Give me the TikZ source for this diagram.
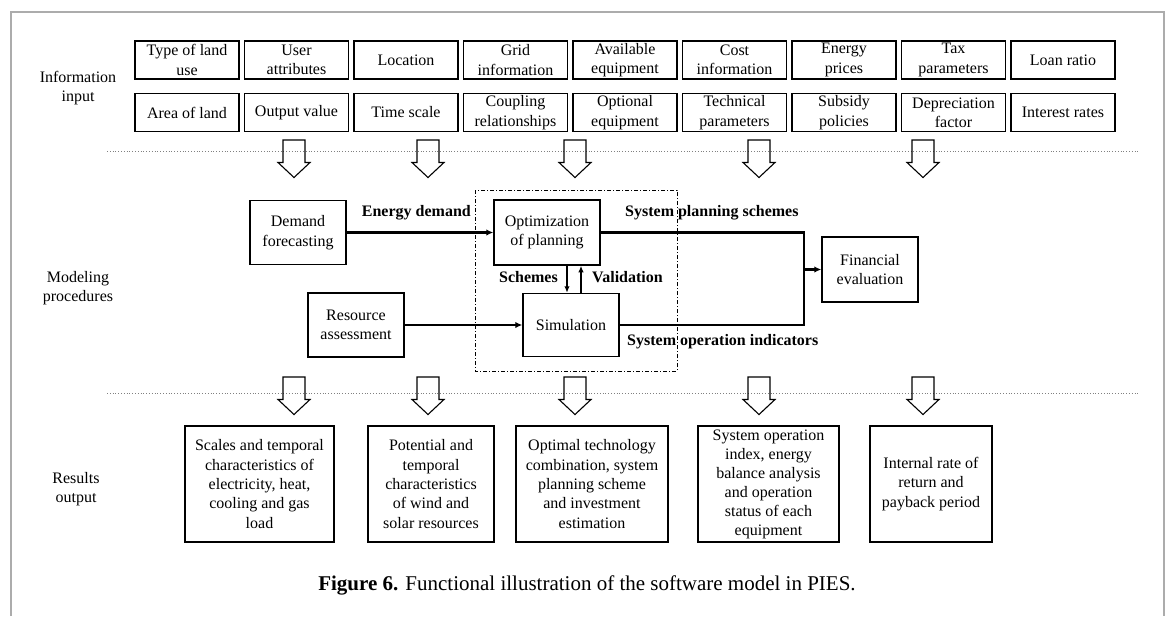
\documentclass[tikz,border=0pt]{standalone}
\usepackage{fontspec}
\setmainfont{Liberation Serif}
\usepackage{tikz}
\usetikzlibrary{positioning, arrows.meta}

\begin{document}
\begin{tikzpicture}[x = 1pt, y = -1pt,
  every node/.style = {font = \fontsize{16}{19.4}\selectfont, align = center},
  inbox/.style = {draw, line width = 1.6pt, minimum width = 104pt, minimum height = 38pt, inner sep = 0pt},
  procbox/.style = {draw, line width = 1.5pt, minimum width = 96pt, minimum height = 64pt, inner sep = 0pt},
  outbox/.style = {draw, line width = 1.5pt, minimum height = 116pt, inner sep = 0pt},
  flowline/.style = {line width = 2.4pt, -{Latex[length = 7pt, width = 6.5pt]}},
  thinflow/.style = {line width = 1.5pt, -{Latex[length = 6.5pt, width = 5.5pt]}},
  flowlabel/.style = {font = \fontsize{16}{19.4}\selectfont\bfseries, inner sep = 0pt},
  bigarrow/.style = {line width = 1.1pt}]
\useasboundingbox (0, 0) rectangle (1170, 616);
\draw[color = gray!65, line width = 1.5pt] (11, 616) -- (11, 12) -- (1164, 12) -- (1164, 616);

\node (inlabel) at (78, 88) {Information\\input};
\node (modlabel) at (78, 288) {Modeling\\procedures};
\node (reslabel) at (76, 489) {Results\\output};

\node[inbox] (landtype) at (187, 60) {Type of land\\use};
\node[inbox] (userattr) at (296.5, 60) {User\\attributes};
\node[inbox] (location) at (406, 60) {Location};
\node[inbox] (gridinfo) at (515.5, 60) {Grid\\information};
\node[inbox] (availeq) at (625, 60) {Available\\equipment};
\node[inbox] (costinfo) at (734.5, 60) {Cost\\information};
\node[inbox] (prices) at (844, 60) {Energy\\prices};
\node[inbox] (taxpar) at (953.5, 60) {Tax\\parameters};
\node[inbox] (loan) at (1063, 60) {Loan ratio};
\node[inbox] (landarea) at (187, 112.5) {Area of land};
\node[inbox] (outval) at (296.5, 112.5) {Output value};
\node[inbox] (timescale) at (406, 112.5) {Time scale};
\node[inbox] (coupling) at (515.5, 112.5) {Coupling\\relationships};
\node[inbox] (optionaleq) at (625, 112.5) {Optional\\equipment};
\node[inbox] (techpar) at (734.5, 112.5) {Technical\\parameters};
\node[inbox] (subsidy) at (844, 112.5) {Subsidy\\policies};
\node[inbox] (deprec) at (953.5, 112.5) {Depreciation\\factor};
\node[inbox] (interest) at (1063, 112.5) {Interest rates};

\draw[color = gray, dotted, line width = 0.8pt] (107, 151) -- (1140, 151);
\draw[color = gray, dotted, line width = 0.8pt] (107, 393) -- (1140, 393);

\foreach \y in {140, 377}
  \foreach \x in {294, 428, 575, 759, 923}
    \draw[bigarrow] (\x-11, \y) -- ++(22, 0) -- ++(0, 22.5) -- ++(5, 0) -- (\x, \y+37.5) -- ++(-16, -15) -- ++(5, 0) -- cycle;

\draw[line width = 0.9pt, dash pattern = on 4pt off 2pt on 1pt off 2pt] (475, 190) rectangle (677, 371);

\node[procbox] (demand) at (298, 232.5) {Demand\\forecasting};
\node[procbox, minimum width = 106pt, minimum height = 65pt] (optplan) at (547, 232.5) {Optimization\\of planning};
\node[procbox] (resource) at (356, 325) {Resource\\assessment};
\node[procbox, minimum height = 63pt] (simul) at (571, 325) {Simulation};
\node[procbox, minimum height = 65pt] (financial) at (870, 269.5) {Financial\\evaluation};
\coordinate (merge) at (804, 269.5);

\draw[flowline] (demand) -- (optplan);
\draw[flowline] (resource) -- (simul);
\draw[line width = 2.4pt] (optplan.east) -| (merge) |- (simul.east);
\draw[flowline] (merge) -- (financial);
\draw[thinflow] ([xshift = 20pt] optplan.south) -- ([xshift = 20pt] optplan.south |- simul.north);
\draw[thinflow] ([xshift = 10pt] simul.north) -- ([xshift = 10pt] simul.north |- optplan.south);

\node[flowlabel, anchor = east] (edlabel) at (471, 213) {Energy demand};
\node[flowlabel, anchor = west] (splabel) at (625, 213) {System planning schemes};
\node[flowlabel, anchor = east] (schlabel) at (558, 277) {Schemes};
\node[flowlabel, anchor = west] (vallabel) at (592, 277) {Validation};
\node[flowlabel, anchor = west] (solabel) at (627, 342) {System operation indicators};

\node[outbox, minimum width = 149pt] (loadchar) at (259.5, 484) {Scales and temporal\\characteristics of\\electricity, heat,\\cooling and gas\\load};
\node[outbox, minimum width = 126pt] (rescchar) at (431, 484) {Potential and\\temporal\\characteristics\\of wind and\\solar resources};
\node[outbox, minimum width = 152pt] (techcomb) at (592, 484) {Optimal technology\\combination, system\\planning scheme\\and investment\\estimation};
\node[outbox, minimum width = 141pt, font = \fontsize{16}{19}\selectfont] (opindex) at (768.5, 484) {System operation\\index, energy\\balance analysis\\and operation\\status of each\\equipment};
\node[outbox, minimum width = 122pt] (irr) at (931, 484) {Internal rate of\\return and\\payback period};

\node[font = \fontsize{21}{25}\selectfont] (caption) at (587, 585) {\textbf{Figure 6.} Functional illustration of the software model in PIES.};
\end{tikzpicture}
\end{document}
